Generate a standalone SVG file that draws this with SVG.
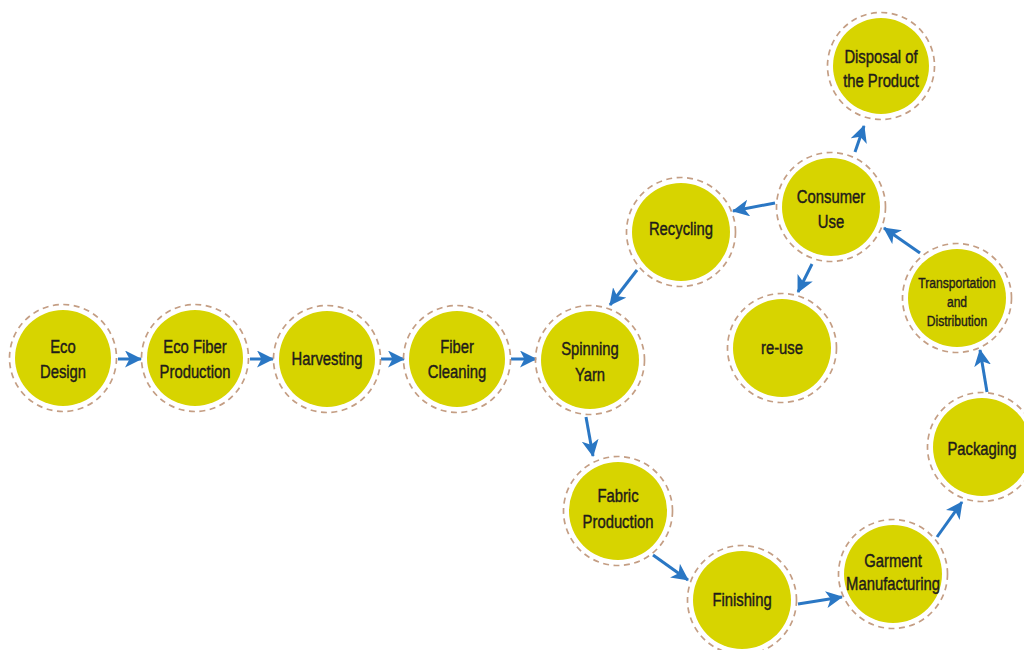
<svg xmlns="http://www.w3.org/2000/svg" width="1024" height="650" viewBox="0 0 1024 650">
<style>
.fill{fill:#d7d400}
.ring{fill:none;stroke:#c49e84;stroke-width:1.7;stroke-dasharray:6 4.5}
.t{font-family:"Liberation Sans",Arial,sans-serif;font-size:19px;fill:#1f1c1a;stroke:#1f1c1a;stroke-width:0.45;text-anchor:middle}
.s{font-size:15.5px;stroke-width:0.4}
.arr{fill:none;stroke:#2a77c4;stroke-width:3}
</style>
<defs>
<marker id="ah" markerUnits="userSpaceOnUse" markerWidth="20" markerHeight="20" refX="16" refY="8.5" orient="auto">
<path d="M0,0 L17,8.5 L0,17 L4.5,8.5 Z" fill="#2a77c4"/>
</marker>
</defs>
<rect width="1024" height="650" fill="#ffffff"/>

<g id="connectors">
<line class="arr" x1="118" y1="359" x2="141" y2="359" marker-end="url(#ah)"/>
<line class="arr" x1="250" y1="359" x2="273" y2="359" marker-end="url(#ah)"/>
<line class="arr" x1="381" y1="359" x2="404" y2="359" marker-end="url(#ah)"/>
<line class="arr" x1="511" y1="359" x2="536" y2="359" marker-end="url(#ah)"/>
<line class="arr" x1="586" y1="417" x2="593" y2="456" marker-end="url(#ah)"/>
<line class="arr" x1="653" y1="555" x2="688" y2="580" marker-end="url(#ah)"/>
<line class="arr" x1="798" y1="604" x2="842" y2="597" marker-end="url(#ah)"/>
<line class="arr" x1="937" y1="537" x2="962" y2="502" marker-end="url(#ah)"/>
<line class="arr" x1="987" y1="392" x2="980" y2="350" marker-end="url(#ah)"/>
<line class="arr" x1="920" y1="253" x2="884" y2="228" marker-end="url(#ah)"/>
<line class="arr" x1="775" y1="203" x2="733" y2="211" marker-end="url(#ah)"/>
<line class="arr" x1="855" y1="152" x2="864" y2="126" marker-end="url(#ah)"/>
<line class="arr" x1="812" y1="264" x2="798" y2="292" marker-end="url(#ah)"/>
<line class="arr" x1="637" y1="270" x2="610" y2="305" marker-end="url(#ah)"/>
</g>

<g id="eco-design">
<circle class="fill" cx="63" cy="358" r="48"/><circle class="ring" cx="63" cy="358" r="53.5"/>
<g transform="translate(63,0) scale(0.78,1)"><text class="t" x="0" y="353">Eco</text><text class="t" x="0" y="378">Design</text></g>
</g>
<g id="eco-fiber-production">
<circle class="fill" cx="195" cy="358" r="48"/><circle class="ring" cx="195" cy="358" r="53.5"/>
<g transform="translate(195,0) scale(0.78,1)"><text class="t" x="0" y="353">Eco Fiber</text><text class="t" x="0" y="378">Production</text></g>
</g>
<g id="harvesting">
<circle class="fill" cx="327" cy="359" r="48"/><circle class="ring" cx="327" cy="359" r="53.5"/>
<g transform="translate(327,0) scale(0.78,1)"><text class="t" x="0" y="365">Harvesting</text></g>
</g>
<g id="fiber-cleaning">
<circle class="fill" cx="457" cy="359" r="48"/><circle class="ring" cx="457" cy="359" r="53.5"/>
<g transform="translate(457,0) scale(0.78,1)"><text class="t" x="0" y="353">Fiber</text><text class="t" x="0" y="378">Cleaning</text></g>
</g>
<g id="spinning-yarn">
<circle class="fill" cx="590" cy="360" r="49"/><circle class="ring" cx="590" cy="360" r="54.5"/>
<g transform="translate(590,0) scale(0.78,1)"><text class="t" x="0" y="355">Spinning</text><text class="t" x="0" y="381">Yarn</text></g>
</g>
<g id="fabric-production">
<circle class="fill" cx="618" cy="511" r="49"/><circle class="ring" cx="618" cy="511" r="54.5"/>
<g transform="translate(618,0) scale(0.78,1)"><text class="t" x="0" y="502">Fabric</text><text class="t" x="0" y="528">Production</text></g>
</g>
<g id="finishing">
<circle class="fill" cx="742" cy="600" r="49"/><circle class="ring" cx="742" cy="600" r="54.5"/>
<g transform="translate(742,0) scale(0.78,1)"><text class="t" x="0" y="606">Finishing</text></g>
</g>
<g id="garment-manufacturing">
<circle class="fill" cx="893" cy="574" r="49"/><circle class="ring" cx="893" cy="574" r="54.5"/>
<g transform="translate(893,0) scale(0.78,1)"><text class="t" x="0" y="567">Garment</text><text class="t" x="0" y="590">Manufacturing</text></g>
</g>
<g id="packaging">
<circle class="fill" cx="982" cy="447" r="49"/><circle class="ring" cx="982" cy="447" r="54.5"/>
<g transform="translate(982,0) scale(0.78,1)"><text class="t" x="0" y="455">Packaging</text></g>
</g>
<g id="transportation-distribution">
<circle class="fill" cx="957" cy="298" r="49"/><circle class="ring" cx="957" cy="298" r="54.5"/>
<g transform="translate(957,0) scale(0.78,1)"><text class="t s" x="0" y="288">Transportation</text><text class="t s" x="0" y="307">and</text><text class="t s" x="0" y="326">Distribution</text></g>
</g>
<g id="consumer-use">
<circle class="fill" cx="831" cy="207" r="49"/><circle class="ring" cx="831" cy="207" r="54.5"/>
<g transform="translate(831,0) scale(0.78,1)"><text class="t" x="0" y="203">Consumer</text><text class="t" x="0" y="228">Use</text></g>
</g>
<g id="disposal">
<circle class="fill" cx="881" cy="66" r="48"/><circle class="ring" cx="881" cy="66" r="53.5"/>
<g transform="translate(881,0) scale(0.78,1)"><text class="t" x="0" y="63">Disposal of</text><text class="t" x="0" y="87">the Product</text></g>
</g>
<g id="recycling">
<circle class="fill" cx="681" cy="232" r="49"/><circle class="ring" cx="681" cy="232" r="54.5"/>
<g transform="translate(681,0) scale(0.78,1)"><text class="t" x="0" y="235">Recycling</text></g>
</g>
<g id="re-use">
<circle class="fill" cx="782" cy="348" r="49"/><circle class="ring" cx="782" cy="348" r="54.5"/>
<g transform="translate(782,0) scale(0.78,1)"><text class="t" x="0" y="354">re-use</text></g>
</g>
</svg>
